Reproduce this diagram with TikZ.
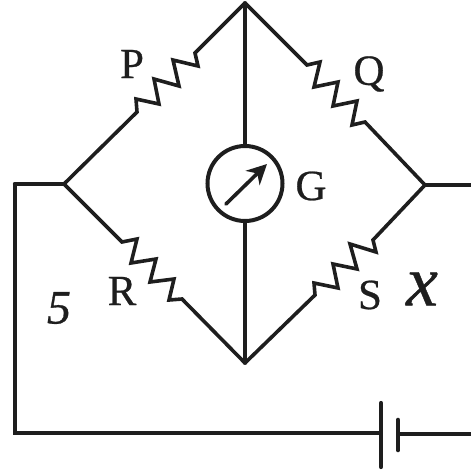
\documentclass[tikz,border=0pt]{standalone}
\usepackage{fontspec}
\setmainfont[FakeBold=0.6]{Liberation Serif}
\usetikzlibrary{arrows.meta}
\definecolor{ink}{HTML}{1E1E1E}
\tikzset{
  wire/.style={draw=ink,line width=3.6pt,line join=miter,line cap=round},
  heavy wire/.style={wire,line width=4.4pt},
  lbl/.style={text=ink,font=\fontsize{43}{43}\selectfont,inner sep=0pt},
  hand/.style={text=ink,font=\fontsize{48}{48}\selectfont\itshape,inner sep=0pt},
  handx/.style={text=ink,font=\fontsize{72}{72}\selectfont\itshape,inner sep=0pt},
  meter/.style={circle,draw=ink,line width=4pt,minimum size=75pt,inner sep=0pt}
}
\begin{document}
\begin{tikzpicture}[x=1pt,y=-1pt]
\useasboundingbox (0,0) rectangle (471,472);
\coordinate (T) at (245,3);
\coordinate (Lf) at (64,184);
\coordinate (Rt) at (425,185);
\coordinate (B) at (245,363);
\coordinate (TL) at (15,184);
\coordinate (BL) at (15,433);
\coordinate (EL) at (471,185);
\coordinate (ER) at (471,434);
\node[meter] (G) at (245,183.5) {};
\coordinate (A1) at (226,204);
\coordinate (A2) at (267,164);
\coordinate (Bat1) at (381,433);
\coordinate (Bat2) at (398,434);
\coordinate (Bat1t) at (381,403);
\coordinate (Bat1b) at (381,467);
\coordinate (Bat2t) at (398,420);
\coordinate (Bat2b) at (398,450);
% bridge arms with resistors
\draw[wire] (Lf) -- (137,112) -- (136,99) -- (159,104) -- (154,79) -- (179,86) -- (173,60) -- (198,66) -- (195,53) -- (T);
\draw[wire] (T) -- (307,65) -- (320,62) -- (314,87) -- (338,82) -- (333,106) -- (357,101) -- (352,125) -- (365,122) -- (Rt);
\draw[wire] (Lf) -- (122,242) -- (137,239) -- (131,263) -- (156,259) -- (150,282) -- (174,279) -- (169,300) -- (182,299) -- (B);
\draw[wire] (B) -- (315,295) -- (314,283) -- (338,288) -- (333,264) -- (357,269) -- (350,244) -- (376,252) -- (373,240) -- (Rt);
% galvanometer branch
\draw[wire] (T) -- (G.north);
\draw[wire] (G.south) -- (B);
\draw[wire,-{Stealth[length=20pt,width=20pt]}] (A1) -- (A2);
% outer circuit
\draw[heavy wire] (Lf) -- (TL);
\draw[wire] (TL) -- (BL) -- (Bat1);
\draw[heavy wire] (Rt) -- (EL);
\draw[wire] (Bat2) -- (ER);
\draw[wire,line width=4.2pt] (Bat1t) -- (Bat1b);
\draw[wire,line width=4.6pt] (Bat2t) -- (Bat2b);
% labels
\node[lbl] (lP) at (132,64) {P};
\node[lbl] (lQ) at (369,74) {Q};
\node[lbl] (lG) at (311,186) {G};
\node[lbl] (lR) at (122,291) {R};
\node[lbl] (lS) at (370,295) {S};
\node[hand] (l5) at (59,308) {5};
\node[handx] (lx) at (422,289) {x};
\end{tikzpicture}
\end{document}
